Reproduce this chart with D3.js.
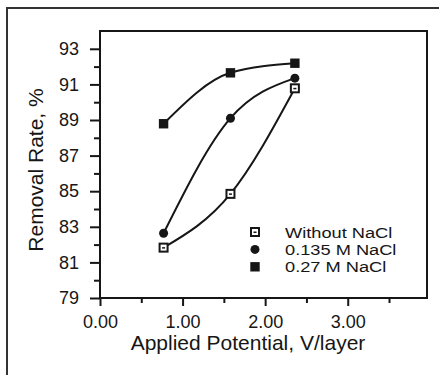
<!DOCTYPE html>
<html>
<head>
<meta charset="utf-8">
<script src="https://cdn.jsdelivr.net/npm/d3@7"></script>
<style>
  html, body { margin: 0; padding: 0; background: #fff; }
  svg { display: block; }
  text { font-family: "Liberation Sans", Arial, Helvetica, sans-serif; fill: #161616; }
</style>
</head>
<body>
<script>
// Removal rate vs. applied potential for three NaCl concentrations
const seriesNames = ["Without NaCl", "0.135 M NaCl", "0.27 M NaCl"];
const potential = [0.77, 1.58, 2.36];               // V/layer
const withoutNaCl = [81.83, 84.85, 90.78];          // %
const nacl0135 = [82.64, 89.1, 91.35];              // %
const nacl027 = [88.79, 91.65, 92.19];              // %
const xTickLabels = ["0.00", "1.00", "2.00", "3.00"];
const yTickLabels = ["79", "81", "83", "85", "87", "89", "91", "93"];

const W = 439, H = 375;
const ink = "#161616";

const svg = d3.select("body").append("svg")
  .attr("width", W).attr("height", H);

// outer frame (top and left edges)
svg.append("path")
  .attr("d", "M7,375 V8 H439")
  .attr("fill", "none").attr("stroke", "#333").attr("stroke-width", 2);

const x = d3.scaleLinear().domain([0, 3.96]).range([100, 427]);
const y = d3.scaleLinear().domain([79, 94]).range([298, 31]);

// plot box
svg.append("rect")
  .attr("x", x(0)).attr("y", y(94))
  .attr("width", x(3.96) - x(0)).attr("height", y(79) - y(94))
  .attr("fill", "none").attr("stroke", ink).attr("stroke-width", 2);

// x axis: major ticks with labels, minor ticks between
const xMajor = xTickLabels.map(Number);
const xAxis = d3.axisBottom(x).tickValues(xMajor)
  .tickFormat((d, i) => xTickLabels[i]).tickSize(8).tickPadding(9);
svg.append("g").attr("transform", `translate(0,${y(79)})`).call(xAxis);
const xMinor = d3.axisBottom(x).tickValues([0.5, 1.5, 2.5, 3.5]).tickFormat("").tickSize(5);
svg.append("g").attr("transform", `translate(0,${y(79)})`).call(xMinor);

// y axis
const yMajor = yTickLabels.map(Number);
const yAxis = d3.axisLeft(y).tickValues(yMajor)
  .tickFormat((d, i) => yTickLabels[i]).tickSize(10).tickPadding(11);
svg.append("g").attr("transform", `translate(${x(0)},0)`).call(yAxis);
const yMinor = d3.axisLeft(y).tickValues([80, 82, 84, 86, 88, 90, 92]).tickFormat("").tickSize(6);
svg.append("g").attr("transform", `translate(${x(0)},0)`).call(yMinor);

svg.selectAll(".domain").remove();
svg.selectAll(".tick line").attr("stroke", ink).attr("stroke-width", 2);
svg.selectAll(".tick text").attr("font-size", 18).style("fill", ink)
  .attr("font-family", "'Liberation Sans', Arial, sans-serif");

// axis titles
svg.append("text")
  .attr("x", 248).attr("y", 350)
  .attr("text-anchor", "middle").attr("font-size", 21)
  .text("Applied Potential, V/layer");
svg.append("text")
  .attr("transform", "translate(43,170) rotate(-90)")
  .attr("text-anchor", "middle").attr("font-size", 21)
  .text("Removal Rate, %");

// smooth curves
const series = [withoutNaCl, nacl0135, nacl027];
const line = d3.line()
  .x((d, i) => x(potential[i]))
  .y(d => y(d))
  .curve(d3.curveMonotoneX);
svg.append("g").selectAll("path").data(series).join("path")
  .attr("d", line)
  .attr("fill", "none").attr("stroke", ink).attr("stroke-width", 2);

// marker drawing per series
function drawMarker(g, kind, cx, cy) {
  if (kind === 0) {
    g.append("rect").attr("x", cx - 4).attr("y", cy - 4)
      .attr("width", 8).attr("height", 8)
      .attr("fill", "#fff").attr("stroke", ink).attr("stroke-width", 2);
    g.append("rect").attr("x", cx - 1.5).attr("y", cy - 0.5)
      .attr("width", 3).attr("height", 1.5).attr("fill", ink);
  } else if (kind === 1) {
    g.append("circle").attr("cx", cx).attr("cy", cy).attr("r", 4.5).attr("fill", ink);
  } else {
    g.append("rect").attr("x", cx - 4.7).attr("y", cy - 4.7)
      .attr("width", 9.4).attr("height", 9.4).attr("fill", ink);
  }
}

const gm = svg.append("g");
series.forEach((vals, s) => {
  vals.forEach((v, i) => drawMarker(gm, s, x(potential[i]), y(v)));
});

// legend: tightly stacked rows, text slightly widened
const lg = svg.append("g");
seriesNames.forEach((name, i) => {
  const cy = 232 + i * 17.4;
  drawMarker(lg, i, 255, cy);
  lg.append("text")
    .attr("transform", `translate(285,${cy + 5.6}) scale(1.2,1)`)
    .attr("font-size", 15.2)
    .text(name);
});
</script>
</body>
</html>
